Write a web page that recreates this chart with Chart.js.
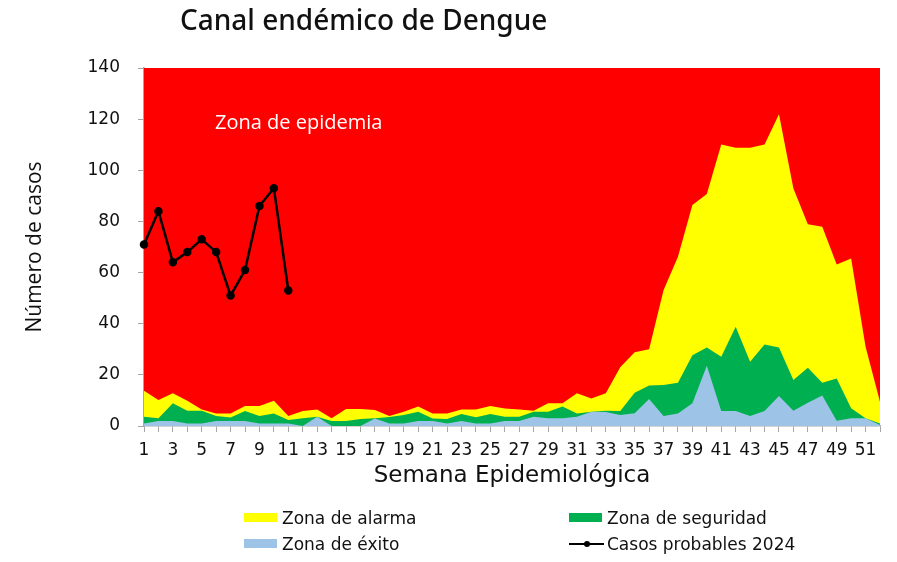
<!DOCTYPE html>
<html>
<head>
<meta charset="utf-8">
<script src="https://cdn.jsdelivr.net/npm/chart.js@4.4.1/dist/chart.umd.min.js"></script>
<style>
    body { margin: 0; background: #fff; }
    #wrap { position: relative; width: 897px; height: 562px; }
    #title {
        position: absolute; left: 180px; top: -1px; line-height: 40px;
        font-family: "Noto Sans", sans-serif; font-size: 28px; font-weight: 500; color: #111;
    }
    .leg { position: absolute; font-family: "DejaVu Sans", sans-serif; font-size: 17px; color: #111; line-height: 20px; }
    .leg .box { position: absolute; top: 5px; height: 9px; }
    .leg .txt { position: absolute; white-space: nowrap; }
</style>
</head>
<body>
<div id="wrap">
    <canvas id="chart" width="897" height="562"></canvas>
    <div id="title">Canal endémico de Dengue</div>
    <div id="legend"></div>
</div>
<script>
const weeks = [];
for (let i = 1; i <= 52; i++) weeks.push(String(i));

// limite superior de cada zona (valores acumulados)
const exito = [1, 2, 2, 1, 1, 2, 2, 2, 1, 1, 1, 0, 3.6, 0, 0, 0, 2.9, 1, 1, 2,
    2, 1, 2, 1, 1, 2, 2, 3.6, 3, 3, 3.6, 5.6, 5.5, 4.3, 5, 10.6, 3.9, 4.9, 8.9, 23.6,
    5.9, 5.9, 3.9, 5.9, 11.7, 6, 9.1, 11.9, 2.1, 3, 3, 0.4];
const seguridad = [3.6, 3, 8.9, 6, 6, 3.9, 3.3, 5.9, 3.9, 4.9, 2.3, 3, 3.6, 2, 2, 2.7, 3, 3.5, 4.3, 5.6,
    2.9, 2.7, 4.7, 3.4, 4.7, 3.6, 3.6, 5.6, 5.6, 7.6, 4.9, 5.6, 6, 5.9, 13, 15.8, 16, 16.9, 27.7, 30.7,
    27.1, 38.8, 25.1, 31.9, 30.7, 18, 22.8, 16.9, 18.6, 6.9, 3, 1];
const alarma = [13.8, 10.2, 12.8, 9.9, 6.5, 4.9, 4.9, 7.8, 7.8, 9.9, 3.9, 5.9, 6.5, 3, 6.6, 6.6, 6.3, 3.9, 5.6, 7.6,
    4.9, 4.9, 6.5, 6.5, 7.8, 6.8, 6.5, 6, 8.9, 8.9, 12.8, 10.8, 12.8, 23, 28.8, 30, 53.1, 66.2, 86.4, 90.7,
    110.1, 108.8, 108.8, 110.1, 121.9, 92.9, 78.9, 77.9, 63.2, 65.5, 31, 9.5];
const casos2024 = [71, 84, 64, 68, 73, 68, 51, 61, 86, 93, 53];

const yTicks = { min: 0, max: 140, step: 20 };

const RED = '#ff0000';
const YELLOW = '#ffff00';
const GREEN = '#00b050';
const BLUE = '#9dc3e6';

const axisFont = { family: 'DejaVu Sans', size: 17 };

const epidemiaBg = {
    id: 'epidemiaBg',
    beforeDatasetsDraw(chart) {
        const { ctx, chartArea: a } = chart;
        ctx.save();
        ctx.fillStyle = RED;
        ctx.fillRect(a.left, a.top, a.right - a.left, a.bottom - a.top);
        ctx.restore();
    },
    afterDatasetsDraw(chart) {
        const { ctx, chartArea: a } = chart;
        ctx.save();
        ctx.fillStyle = '#fff';
        ctx.font = '20px "Open Sans"';
        ctx.textBaseline = 'middle';
        ctx.fillText('Zona de epidemia', a.left + 71, a.top + 55);
        ctx.restore();
    }
};

const areaStyle = { pointRadius: 0, borderWidth: 0, tension: 0, fill: 'origin' };

const datasets = [
    {
        label: 'Casos probables 2024', data: casos2024,
        borderColor: '#000', backgroundColor: '#000', borderWidth: 2.5,
        pointRadius: 3, pointBackgroundColor: '#000', fill: false, tension: 0
    },
    { label: 'Zona de éxito', data: exito, backgroundColor: BLUE, ...areaStyle },
    { label: 'Zona de seguridad', data: seguridad, backgroundColor: GREEN, ...areaStyle },
    { label: 'Zona de alarma', data: alarma, backgroundColor: YELLOW, ...areaStyle }
];

const chart = new Chart(document.getElementById('chart'), {
    type: 'line',
    data: { labels: weeks, datasets },
    plugins: [epidemiaBg],
    options: {
        responsive: false,
        animation: false,
        layout: { padding: { top: 68, right: 17, bottom: 66, left: 0 } },
        plugins: { legend: { display: false }, tooltip: { enabled: false } },
        scales: {
            x: {
                offset: false,
                grid: { drawOnChartArea: false, drawTicks: true, tickLength: 6, color: '#a6a6a6' },
                border: { color: '#a6a6a6', width: 1.5 },
                ticks: {
                    autoSkip: false, maxRotation: 0, padding: 8, color: '#111', font: axisFont,
                    callback: (v, i) => (i % 2 === 0 ? weeks[i] : '')
                },
                title: {
                    display: true, text: 'Semana Epidemiológica', color: '#111',
                    font: { family: 'DejaVu Sans', size: 23 }, padding: { top: 0, bottom: 6 }
                },
                afterFit(scale) { scale.height = 70; }
            },
            y: {
                min: yTicks.min, max: yTicks.max,
                grid: { drawOnChartArea: false, drawTicks: true, tickLength: 6, color: '#a6a6a6' },
                border: { color: '#a6a6a6', width: 1.5 },
                ticks: { stepSize: yTicks.step, padding: 18, color: '#111', font: axisFont },
                title: {
                    display: true, text: 'Número de casos', color: '#111',
                    font: { family: 'Open Sans', size: 21 }, padding: { top: 22, bottom: 0 }
                },
                afterFit(scale) { scale.width = 144; }
            }
        }
    }
});

// leyenda en dos columnas, como en el original
const legendEl = document.getElementById('legend');
const legendPos = {
    'Zona de alarma': [244, 508],
    'Zona de seguridad': [569, 508],
    'Zona de éxito': [244, 534],
    'Casos probables 2024': [569, 534]
};
['Zona de alarma', 'Zona de seguridad', 'Zona de éxito', 'Casos probables 2024'].forEach(name => {
    const ds = chart.data.datasets.find(d => d.label === name);
    const [x, y] = legendPos[name];
    const item = document.createElement('div');
    item.className = 'leg';
    item.style.left = x + 'px';
    item.style.top = y + 'px';
    let marker;
    if (ds.fill === false) {
        marker = '<div style="position:absolute;left:0;top:9px;width:35px;height:2px;background:#000"></div>' +
            '<div style="position:absolute;left:15px;top:7px;width:6px;height:6px;border-radius:3px;background:#000"></div>';
    } else {
        marker = `<div class="box" style="left:0;width:33px;background:${ds.backgroundColor}"></div>`;
    }
    item.innerHTML = marker + `<span class="txt" style="left:38px">${name}</span>`;
    legendEl.appendChild(item);
});
</script>
</body>
</html>
